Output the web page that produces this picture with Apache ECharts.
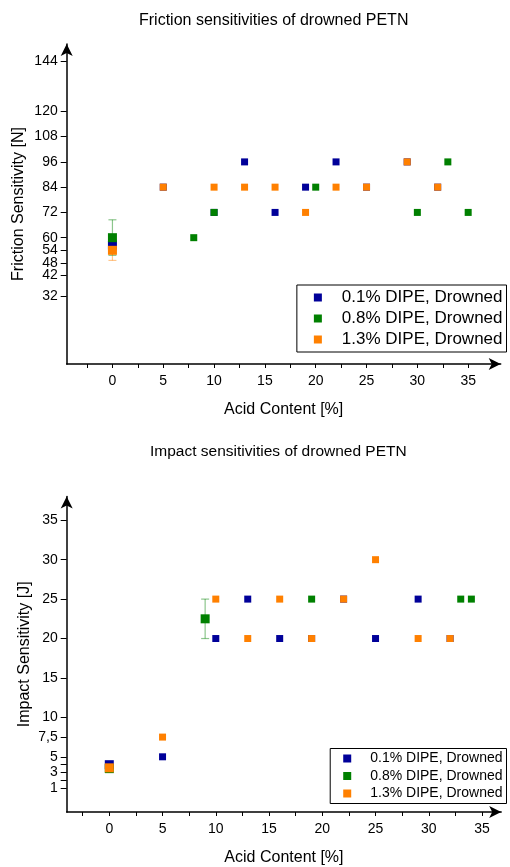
<!DOCTYPE html>
<html><head><meta charset="utf-8">
<script src="https://cdn.jsdelivr.net/npm/echarts@6/dist/echarts.min.js"></script>
<style>html,body{margin:0;padding:0;background:#fff}#c{width:510px;height:867px}</style>
</head><body><div id="c"></div>
<script>
// ---- Data ----
const seriesNames = ['0.1% DIPE, Drowned', '0.8% DIPE, Drowned', '1.3% DIPE, Drowned'];
// Friction sensitivity [N] vs acid content [%]
const fricBlue   = [[0,56.5],[5,84],[10,72],[13,96],[16,72],[19,84],[22,96],[25,84],[29,96],[32,84]];
const fricGreen  = [[0,60],[8,60],[10,72],[20,84],[30,72],[33,96],[35,72]];
const fricOrange = [[0,54],[5,84],[10,84],[13,84],[16,84],[19,72],[22,84],[25,84],[29,96],[32,84]];
// error bars: [x, low, high]
const fricErrBlue   = [[0,54,59]];
const fricErrGreen  = [[0,51.6,68.5]];
const fricErrOrange = [[0,49.2,58.8]];
// Impact sensitivity [J] vs acid content [%]
const impBlue   = [[0,4],[5,5],[10,20],[13,25],[16,20],[19,20],[22,25],[25,20],[29,25],[32,20]];
const impGreen  = [[0,3.5],[9,22.5],[19,25],[33,25],[34,25]];
const impOrange = [[0,3.6],[5,7.5],[10,25],[13,20],[16,25],[19,20],[22,25],[25,30],[29,20],[32,20]];
const impErrGreen = [[9,20,25]];
// tick labels
const fricYTicks = [32,42,48,54,60,72,84,96,108,120,144];
const impYTicks = [1,3,5,7.5,10,15,20,25,30,35];
const impYMinorTicks = [1,2,3,4,5,7.5,10,15,20,25,30,35];
const xLabels = [0,5,10,15,20,25,30,35];
const xTicks = [-2.5,0,2.5,5,7.5,10,12.5,15,17.5,20,22.5,25,27.5,30,32.5,35];

const colors = ['#000099', '#008000', '#ff8000'];
const errColors = ['rgba(0,0,153,0.45)', 'rgba(0,128,0,0.45)', 'rgba(255,128,0,0.45)'];
const FONT = 'Liberation Sans, Arial, sans-serif';

function errSeries(data, gi, ci) {
  return {
    type: 'custom', xAxisIndex: gi, yAxisIndex: gi, z: 1, silent: true,
    data: data,
    encode: {x: 0, y: [1, 2]},
    renderItem: function (params, api) {
      const x = api.value(0), lo = api.value(1), hi = api.value(2);
      const a = api.coord([x, lo]), b = api.coord([x, hi]);
      const st = {stroke: errColors[ci], lineWidth: 1.2};
      return {type: 'group', children: [
        {type: 'line', shape: {x1: a[0], y1: a[1], x2: b[0], y2: b[1]}, style: st},
        {type: 'line', shape: {x1: a[0]-4, y1: a[1], x2: a[0]+4, y2: a[1]}, style: st},
        {type: 'line', shape: {x1: b[0]-4, y1: b[1], x2: b[0]+4, y2: b[1]}, style: st}
      ]};
    }
  };
}
function scat(name, data, gi, ci) {
  return {
    name: name, type: 'scatter', xAxisIndex: gi, yAxisIndex: gi, z: 3,
    symbol: 'rect',
    symbolSize: function (v) { return v[0] === 0 || (gi === 1 && v[0] === 9) ? 9 : 7; },
    itemStyle: {color: colors[ci], opacity: 1},
    data: data
  };
}
function xAxis(gi, min, max) {
  return {
    type: 'value', gridIndex: gi, min: min, max: max,
    name: 'Acid Content [%]', nameLocation: 'middle', nameGap: 38,
    nameTextStyle: {fontSize: 16, color: '#000', fontFamily: FONT},
    splitLine: {show: false},
    axisLine: {onZero: false, symbol: ['none', 'arrow'], symbolSize: [9, 12], lineStyle: {color: '#000', width: 1.5}},
    axisTick: {customValues: xTicks, length: 4, lineStyle: {color: '#000', width: 1}},
    axisLabel: {customValues: xLabels, fontSize: 14, color: '#000', margin: 10, fontFamily: FONT}
  };
}
const chart = echarts.init(document.getElementById('c'), null, {renderer: 'canvas'});
chart.setOption({
  animation: false,
  backgroundColor: '#fff',
  title: [
    {text: 'Friction sensitivities of drowned PETN', left: 134, top: 8, textStyle: {fontSize: 16, fontWeight: 'normal', color: '#000', fontFamily: FONT}},
    {text: 'Impact sensitivities of drowned PETN', left: 145, top: 439, textStyle: {fontSize: 15.5, fontWeight: 'normal', color: '#000', fontFamily: FONT}}
  ],
  grid: [
    {left: 66.7, top: 44, width: 434, height: 320},
    {left: 66.7, top: 496.6, width: 434.5, height: 318.4}
  ],
  legend: [
    {data: seriesNames, orient: 'vertical', right: 3.5, top: 285, itemWidth: 8, itemHeight: 8, itemGap: 4,
     icon: 'rect', padding: [4, 4, 4, 17], borderColor: '#000', borderWidth: 1,
     textStyle: {fontSize: 17, color: '#000', fontFamily: FONT, padding: [0, 0, 0, 15]}},
    {data: seriesNames, orient: 'vertical', right: 3.5, top: 748.5, itemWidth: 8, itemHeight: 8, itemGap: 3.5,
     icon: 'rect', padding: [3, 4, 3, 13], borderColor: '#000', borderWidth: 1,
     textStyle: {fontSize: 14, color: '#000', fontFamily: FONT, padding: [0, 0, 0, 14]}}
  ],
  xAxis: [xAxis(0, -4.5, 38.2), xAxis(1, -4, 36.8)],
  yAxis: [
    {type: 'value', gridIndex: 0, min: 0, max: 152,
     name: 'Friction Sensitivity [N]', nameLocation: 'middle', nameGap: 40, nameMoveOverlap: false,
     nameTextStyle: {fontSize: 16, color: '#000', fontFamily: FONT},
     splitLine: {show: false},
     axisLine: {onZero: false, symbol: ['none', 'arrow'], symbolSize: [9, 12], lineStyle: {color: '#000', width: 1.5}},
     axisTick: {customValues: fricYTicks, length: 6, lineStyle: {color: '#000'}},
     axisLabel: {customValues: fricYTicks, fontSize: 14, color: '#000', margin: 9, fontFamily: FONT}},
    {type: 'value', gridIndex: 1, min: -2, max: 38,
     name: 'Impact Sensitivity [J]', nameLocation: 'middle', nameGap: 34, nameMoveOverlap: false,
     nameTextStyle: {fontSize: 16, color: '#000', fontFamily: FONT},
     splitLine: {show: false},
     axisLine: {onZero: false, symbol: ['none', 'arrow'], symbolSize: [9, 12], lineStyle: {color: '#000', width: 1.5}},
     axisTick: {customValues: impYMinorTicks, length: 6, lineStyle: {color: '#000'}},
     axisLabel: {customValues: impYTicks, fontSize: 14, color: '#000', margin: 9, fontFamily: FONT,
                 formatter: function (v) { return String(v).replace('.', ','); }}}
  ],
  series: [
    errSeries(fricErrBlue, 0, 0), errSeries(fricErrGreen, 0, 1), errSeries(fricErrOrange, 0, 2),
    scat(seriesNames[0], fricBlue, 0, 0),
    scat(seriesNames[1], fricGreen, 0, 1),
    scat(seriesNames[2], fricOrange, 0, 2),
    errSeries(impErrGreen, 1, 1),
    scat(seriesNames[0], impBlue, 1, 0),
    scat(seriesNames[1], impGreen, 1, 1),
    scat(seriesNames[2], impOrange, 1, 2)
  ]
});
</script></body></html>
